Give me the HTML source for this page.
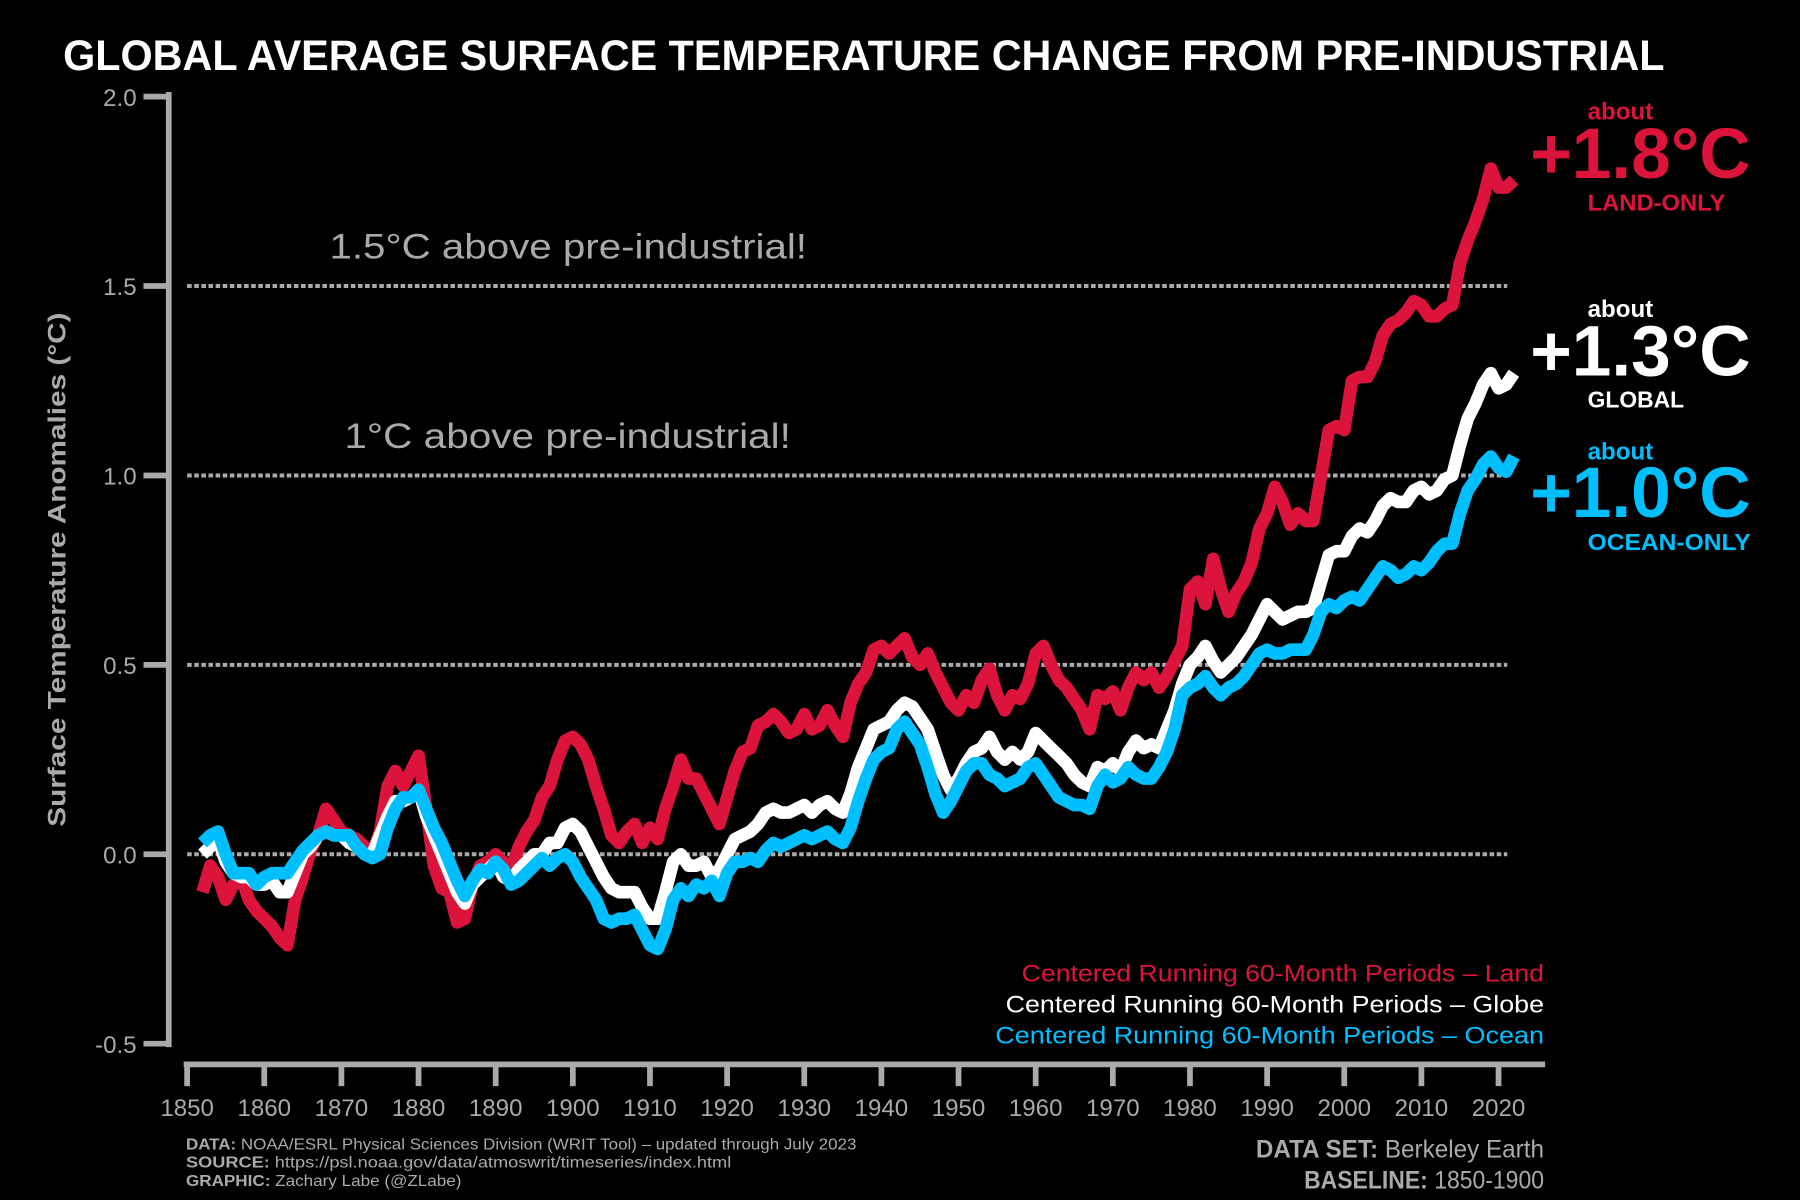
<!DOCTYPE html>
<html><head><meta charset="utf-8"><style>
html,body{margin:0;padding:0;background:#000;}
svg{display:block;}
text{font-family:"Liberation Sans",sans-serif;}
</style></head><body>
<svg id="chart" width="1800" height="1200" viewBox="0 0 1568 1045" xmlns="http://www.w3.org/2000/svg">
<rect width="1568" height="1045" fill="#000"/>
<text x="55" y="61" fill="#fff" font-size="37" font-weight="bold" textLength="1395" lengthAdjust="spacingAndGlyphs">GLOBAL AVERAGE SURFACE TEMPERATURE CHANGE FROM PRE-INDUSTRIAL</text>
<text transform="translate(57,496) rotate(-90)" text-anchor="middle" fill="#aaa" font-size="22" font-weight="bold" textLength="448" lengthAdjust="spacingAndGlyphs">Surface Temperature Anomalies (°C)</text>
<g id="grid"></g>
<g id="axes"></g>
<text x="287" y="225" fill="#aaa" font-size="31" textLength="416" lengthAdjust="spacingAndGlyphs">1.5°C above pre-industrial!</text>
<text x="300" y="390" fill="#aaa" font-size="31" textLength="389" lengthAdjust="spacingAndGlyphs">1°C above pre-industrial!</text>
<g id="series"></g>
<g>
<text x="1383" y="104" fill="#DC143C" font-size="21" font-weight="bold">about</text>
<text x="1333" y="155" fill="#DC143C" font-size="62" font-weight="bold" textLength="192" lengthAdjust="spacingAndGlyphs">+1.8°C</text>
<text x="1383" y="183" fill="#DC143C" font-size="20" font-weight="bold" textLength="120" lengthAdjust="spacingAndGlyphs">LAND-ONLY</text>
</g>
<g>
<text x="1383" y="276" fill="#fff" font-size="21" font-weight="bold">about</text>
<text x="1333" y="327" fill="#fff" font-size="62" font-weight="bold" textLength="192" lengthAdjust="spacingAndGlyphs">+1.3°C</text>
<text x="1383" y="355" fill="#fff" font-size="20" font-weight="bold" textLength="84" lengthAdjust="spacingAndGlyphs">GLOBAL</text>
</g>
<g>
<text x="1383" y="400" fill="#00BFFF" font-size="21" font-weight="bold">about</text>
<text x="1333" y="450" fill="#00BFFF" font-size="62" font-weight="bold" textLength="192" lengthAdjust="spacingAndGlyphs">+1.0°C</text>
<text x="1383" y="479" fill="#00BFFF" font-size="20" font-weight="bold" textLength="142" lengthAdjust="spacingAndGlyphs">OCEAN-ONLY</text>
</g>
<g font-size="21">
<text x="890" y="855" fill="#DC143C" textLength="455" lengthAdjust="spacingAndGlyphs">Centered Running 60-Month Periods – Land</text>
<text x="876" y="882" fill="#fff" textLength="469" lengthAdjust="spacingAndGlyphs">Centered Running 60-Month Periods – Globe</text>
<text x="867" y="909" fill="#00BFFF" textLength="478" lengthAdjust="spacingAndGlyphs">Centered Running 60-Month Periods – Ocean</text>
</g>
<g font-size="14" fill="#aaa">
<text x="162" y="1001" textLength="584" lengthAdjust="spacingAndGlyphs"><tspan font-weight="bold">DATA:</tspan> NOAA/ESRL Physical Sciences Division (WRIT Tool) – updated through July 2023</text>
<text x="162" y="1017" textLength="475" lengthAdjust="spacingAndGlyphs"><tspan font-weight="bold">SOURCE:</tspan> https://psl.noaa.gov/data/atmoswrit/timeseries/index.html</text>
<text x="162" y="1033" textLength="240" lengthAdjust="spacingAndGlyphs"><tspan font-weight="bold">GRAPHIC:</tspan> Zachary Labe (@ZLabe)</text>
</g>
<g font-size="22" fill="#aaa">
<text x="1094" y="1008" textLength="251" lengthAdjust="spacingAndGlyphs"><tspan font-weight="bold">DATA SET:</tspan> Berkeley Earth</text>
<text x="1136" y="1035" textLength="209" lengthAdjust="spacingAndGlyphs"><tspan font-weight="bold">BASELINE:</tspan> 1850-1900</text>
</g>
</svg>
<script>
const startYear = 1852;
const land = [-0.10,-0.03,-0.06,-0.12,-0.08,-0.06,-0.12,-0.15,-0.17,-0.19,-0.22,-0.24,-0.12,-0.06,0.01,0.05,0.12,0.09,0.06,0.05,0.04,0.02,0.0,0.06,0.18,0.22,0.18,0.22,0.26,0.12,-0.03,-0.09,-0.10,-0.18,-0.17,-0.08,-0.03,-0.02,0.0,-0.02,-0.04,0.02,0.06,0.09,0.15,0.18,0.25,0.30,0.31,0.29,0.25,0.18,0.12,0.05,0.03,0.06,0.08,0.03,0.07,0.04,0.12,0.18,0.25,0.20,0.20,0.16,0.12,0.08,0.15,0.22,0.27,0.28,0.34,0.35,0.37,0.35,0.32,0.33,0.37,0.33,0.34,0.38,0.34,0.31,0.40,0.45,0.48,0.54,0.55,0.53,0.55,0.57,0.52,0.50,0.53,0.48,0.44,0.40,0.38,0.42,0.40,0.46,0.49,0.42,0.38,0.42,0.41,0.45,0.53,0.55,0.50,0.46,0.44,0.41,0.38,0.33,0.42,0.41,0.43,0.38,0.44,0.48,0.46,0.48,0.44,0.47,0.51,0.55,0.70,0.72,0.66,0.78,0.70,0.64,0.69,0.72,0.77,0.86,0.90,0.97,0.93,0.87,0.90,0.88,0.88,1.00,1.12,1.13,1.12,1.25,1.26,1.26,1.30,1.37,1.40,1.41,1.43,1.46,1.45,1.42,1.42,1.44,1.45,1.56,1.62,1.67,1.73,1.81,1.76,1.76,1.78];
const globe = [0.0,0.02,0.04,-0.02,-0.05,-0.06,-0.06,-0.08,-0.08,-0.07,-0.10,-0.10,-0.05,0.0,0.02,0.05,0.06,0.05,0.05,0.03,0.02,0.0,0.0,0.05,0.10,0.14,0.14,0.15,0.17,0.10,0.05,0.0,-0.05,-0.10,-0.13,-0.08,-0.06,-0.04,-0.02,-0.06,-0.07,-0.04,-0.02,0.0,0.0,0.03,0.03,0.07,0.08,0.06,0.02,-0.02,-0.06,-0.09,-0.10,-0.10,-0.10,-0.14,-0.17,-0.17,-0.10,-0.02,0.0,-0.03,-0.03,-0.02,-0.06,-0.04,0.0,0.04,0.05,0.06,0.08,0.11,0.12,0.11,0.11,0.12,0.13,0.11,0.13,0.14,0.12,0.11,0.16,0.23,0.28,0.33,0.34,0.35,0.38,0.40,0.39,0.36,0.33,0.27,0.21,0.17,0.20,0.24,0.27,0.28,0.31,0.27,0.25,0.27,0.25,0.27,0.32,0.30,0.28,0.26,0.24,0.21,0.19,0.18,0.23,0.22,0.24,0.22,0.27,0.30,0.28,0.29,0.28,0.33,0.38,0.45,0.50,0.52,0.55,0.51,0.48,0.50,0.52,0.55,0.58,0.62,0.66,0.64,0.62,0.63,0.64,0.64,0.65,0.72,0.79,0.80,0.80,0.84,0.86,0.85,0.88,0.92,0.94,0.93,0.93,0.96,0.97,0.95,0.96,0.99,1.00,1.08,1.15,1.19,1.24,1.27,1.23,1.24,1.27];
const ocean = [0.03,0.05,0.06,0.0,-0.05,-0.05,-0.05,-0.08,-0.06,-0.05,-0.05,-0.05,-0.02,0.01,0.03,0.05,0.06,0.05,0.05,0.05,0.02,0.0,-0.01,0.0,0.07,0.12,0.15,0.15,0.17,0.12,0.07,0.03,-0.02,-0.07,-0.11,-0.07,-0.04,-0.05,-0.02,-0.04,-0.08,-0.07,-0.05,-0.03,-0.01,-0.03,-0.01,0.0,-0.02,-0.06,-0.09,-0.12,-0.17,-0.18,-0.17,-0.17,-0.16,-0.20,-0.24,-0.25,-0.20,-0.12,-0.09,-0.11,-0.08,-0.09,-0.07,-0.11,-0.05,-0.02,-0.02,-0.01,-0.02,0.01,0.03,0.02,0.03,0.04,0.05,0.04,0.05,0.06,0.04,0.03,0.07,0.14,0.20,0.25,0.27,0.28,0.33,0.35,0.32,0.29,0.23,0.16,0.11,0.14,0.18,0.22,0.24,0.24,0.21,0.20,0.18,0.19,0.20,0.23,0.24,0.21,0.18,0.15,0.14,0.13,0.13,0.12,0.18,0.21,0.19,0.20,0.23,0.21,0.20,0.20,0.23,0.27,0.33,0.42,0.44,0.45,0.47,0.44,0.42,0.44,0.45,0.47,0.50,0.53,0.54,0.53,0.53,0.54,0.54,0.54,0.58,0.64,0.66,0.65,0.67,0.68,0.67,0.70,0.73,0.76,0.75,0.73,0.74,0.76,0.75,0.77,0.80,0.82,0.82,0.90,0.96,0.99,1.03,1.05,1.02,1.01,1.05];
const yTicks = [2.0,1.5,1.0,0.5,0.0,-0.5];
const yTickLabels = ["2.0","1.5","1.0","0.5","0.0","-0.5"];
const gridValues = [1.5,1.0,0.5,0.0];
const xTicks = [1850,1860,1870,1880,1890,1900,1910,1920,1930,1940,1950,1960,1970,1980,1990,2000,2010,2020];

const NS = "http://www.w3.org/2000/svg";
function xScale(yr){ return 163 + (yr - 1850) * 6.72; }
function yScale(v){ return 744 - v * 330; }
function mk(tag, attrs, parent){ const e=document.createElementNS(NS,tag); for(const k in attrs) e.setAttribute(k,attrs[k]); parent.appendChild(e); return e; }

const grid = document.getElementById('grid');
gridValues.forEach(v=>{
  const l = mk('line',{x1:163,x2:1313,y1:yScale(v),y2:yScale(v),stroke:'#aaa','stroke-width':3.5,'stroke-dasharray':'4 2.2'},grid);
  
  
});

const axes = document.getElementById('axes');
const ya = mk('line',{x1:147,x2:147,y1:yScale(2.0)-4,y2:yScale(-0.5)+3,stroke:'#aaa','stroke-width':5},axes);


yTicks.forEach((v,i)=>{
  const t = mk('line',{x1:125,x2:147,y1:yScale(v),y2:yScale(v),stroke:'#aaa','stroke-width':5},axes);
  
  
  const tx = mk('text',{x:119,y:yScale(v)+8,'text-anchor':'end',fill:'#aaa','font-size':21},axes);
  tx.textContent = yTickLabels[i];
  
  
});
const xa = mk('line',{x1:160,x2:1346,y1:927,y2:927,stroke:'#aaa','stroke-width':5},axes);


xTicks.forEach(yr=>{
  const t = mk('line',{x1:xScale(yr),x2:xScale(yr),y1:927,y2:946,stroke:'#aaa','stroke-width':5},axes);
  
  
  const tx = mk('text',{x:xScale(yr),y:972,'text-anchor':'middle',fill:'#aaa','font-size':21},axes);
  tx.textContent = String(yr);
  
  
});

const series = document.getElementById('series');
[[land,'#DC143C','land-line'],[globe,'#ffffff','global-line'],[ocean,'#00BFFF','ocean-line']].forEach(([arr,col,name])=>{
  const d = arr.map((v,i)=>(i?'L':'M')+xScale(startYear+i).toFixed(1)+','+yScale(v).toFixed(1)).join(' ');
  const p = mk('path',{d:d,fill:'none',stroke:col,'stroke-width':11,'stroke-linejoin':'round','stroke-linecap':'butt'},series);
  
  
});
</script>
</body></html>
